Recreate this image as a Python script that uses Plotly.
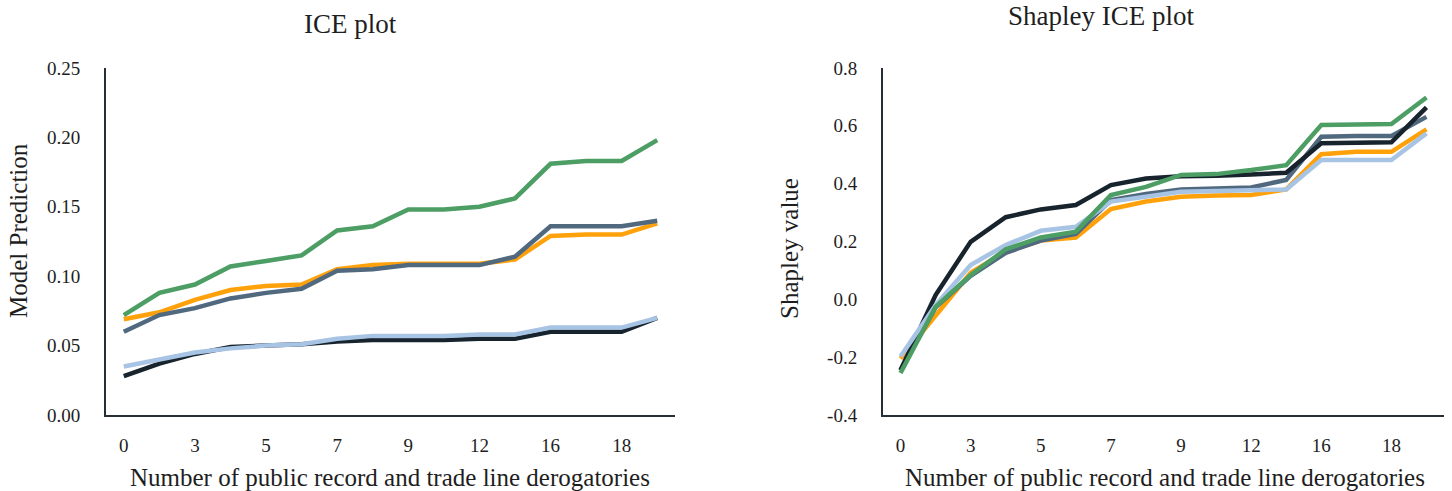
import plotly.graph_objects as go

# Categories (16 grid points); only every other label is shown in the reference
categories = ["0", "1", "3", "4", "5", "6", "7", "8", "9", "11", "12", "14", "16", "17", "18", "19"]
shown_ticks = ["0", "3", "5", "7", "9", "12", "16", "18"]

# y tick labels
ice_yticks = [0, 0.05, 0.10, 0.15, 0.20, 0.25]
ice_yticktext = ["0.00", "0.05", "0.10", "0.15", "0.20", "0.25"]
shap_yticks = [-0.4, -0.2, 0, 0.2, 0.4, 0.6, 0.8]
shap_yticktext = ["-0.4", "-0.2", "0.0", "0.2", "0.4", "0.6", "0.8"]

# ICE plot (model prediction)
ice_green = [0.072, 0.088, 0.094, 0.107, 0.111, 0.115, 0.133, 0.136, 0.148, 0.148, 0.150, 0.156, 0.181, 0.183, 0.183, 0.198]
ice_orange = [0.069, 0.074, 0.083, 0.090, 0.093, 0.094, 0.105, 0.108, 0.109, 0.109, 0.109, 0.112, 0.129, 0.130, 0.130, 0.138]
ice_slate = [0.060, 0.072, 0.077, 0.084, 0.088, 0.091, 0.104, 0.105, 0.108, 0.108, 0.108, 0.114, 0.136, 0.136, 0.136, 0.140]
ice_black = [0.028, 0.037, 0.044, 0.049, 0.050, 0.051, 0.053, 0.054, 0.054, 0.054, 0.055, 0.055, 0.060, 0.060, 0.060, 0.070]
ice_lightblue = [0.035, 0.040, 0.045, 0.048, 0.050, 0.051, 0.055, 0.057, 0.057, 0.057, 0.058, 0.058, 0.063, 0.063, 0.063, 0.070]

# Shapley ICE plot
shap_green = [-0.255, -0.026, 0.084, 0.173, 0.214, 0.234, 0.361, 0.389, 0.430, 0.433, 0.447, 0.464, 0.603, 0.606, 0.606, 0.698]
shap_orange = [-0.205, -0.054, 0.092, 0.165, 0.203, 0.214, 0.312, 0.338, 0.355, 0.359, 0.361, 0.380, 0.502, 0.510, 0.510, 0.588]
shap_slate = [-0.245, -0.028, 0.081, 0.161, 0.203, 0.226, 0.343, 0.364, 0.380, 0.383, 0.387, 0.413, 0.562, 0.565, 0.565, 0.631]
shap_black = [-0.245, 0.015, 0.199, 0.284, 0.311, 0.326, 0.395, 0.418, 0.426, 0.427, 0.432, 0.438, 0.540, 0.543, 0.543, 0.664]
shap_lightblue = [-0.198, -0.020, 0.119, 0.188, 0.237, 0.251, 0.338, 0.355, 0.372, 0.375, 0.376, 0.380, 0.482, 0.482, 0.482, 0.574]

colors = {
    "orange": "#ffa10a",
    "slate": "#51697f",
    "black": "#17232d",
    "lightblue": "#a8c4e4",
    "green": "#4c9e64",
}

FONT = "Liberation Serif"
TEXT = "#1e1e1e"
AXIS = "#262f38"
W, H = 1452, 491

fig = go.Figure()

left_series = [("orange", ice_orange), ("slate", ice_slate), ("black", ice_black),
               ("lightblue", ice_lightblue), ("green", ice_green)]
right_series = [("orange", shap_orange), ("slate", shap_slate), ("black", shap_black),
                ("lightblue", shap_lightblue), ("green", shap_green)]

for name, vals in left_series:
    fig.add_trace(go.Scatter(x=categories, y=vals, mode="lines", name=name,
                             line=dict(color=colors[name], width=4.5),
                             xaxis="x", yaxis="y", showlegend=False))
for name, vals in right_series:
    fig.add_trace(go.Scatter(x=categories, y=vals, mode="lines", name=name,
                             line=dict(color=colors[name], width=4.5),
                             xaxis="x2", yaxis="y2", showlegend=False))

def px_x(p):
    return p / W

def px_y(p):
    return 1 - p / H

ydom = [px_y(415), px_y(68)]

xaxis_common = dict(
    type="category", categoryorder="array", categoryarray=categories,
    tickmode="array", tickvals=shown_ticks, ticktext=shown_ticks,
    showline=True, linecolor=AXIS, linewidth=2, showgrid=False, zeroline=False,
    ticks="", ticklabelstandoff=12,
    tickfont=dict(family=FONT, size=19, color=TEXT),
    range=[-0.5, 15.5], automargin=False,
)
yaxis_common = dict(
    showline=True, linecolor=AXIS, linewidth=2, showgrid=False, zeroline=False,
    ticks="", ticklabelstandoff=20, tickmode="array",
    tickfont=dict(family=FONT, size=19, color=TEXT), automargin=False,
)

fig.update_layout(
    width=W, height=H,
    margin=dict(l=0, r=0, t=0, b=0),
    paper_bgcolor="white", plot_bgcolor="white",
    xaxis=dict(domain=[px_x(106), px_x(675)], anchor="y", **xaxis_common),
    yaxis=dict(domain=ydom, anchor="x", range=[0, 0.25], tickvals=ice_yticks,
               ticktext=ice_yticktext, **yaxis_common),
    xaxis2=dict(domain=[px_x(883), px_x(1444)], anchor="y2", **xaxis_common),
    yaxis2=dict(domain=ydom, anchor="x2", range=[-0.4, 0.8], tickvals=shap_yticks,
                ticktext=shap_yticktext, **yaxis_common),
)

annotations = [
    dict(text="ICE plot", x=px_x(350), y=px_y(24), font=dict(family=FONT, size=27, color=TEXT)),
    dict(text="Shapley ICE plot", x=px_x(1101), y=px_y(16), font=dict(family=FONT, size=27, color=TEXT)),
    dict(text="Number of public record and trade line derogatories", x=px_x(390), y=px_y(477),
         font=dict(family=FONT, size=25, color=TEXT)),
    dict(text="Number of public record and trade line derogatories", x=px_x(1165), y=px_y(477),
         font=dict(family=FONT, size=25, color=TEXT)),
    dict(text="Model Prediction", x=px_x(18), y=px_y(231), textangle=-90,
         font=dict(family=FONT, size=25, color=TEXT)),
    dict(text="Shapley value", x=px_x(790), y=px_y(249), textangle=-90,
         font=dict(family=FONT, size=25, color=TEXT)),
]
for a in annotations:
    fig.add_annotation(xref="paper", yref="paper", xanchor="center", yanchor="middle",
                       showarrow=False, **a)

fig.write_html("out.html", config={"displayModeBar": False},
               post_script="document.body.style.margin='0';document.body.style.overflow='hidden';")
